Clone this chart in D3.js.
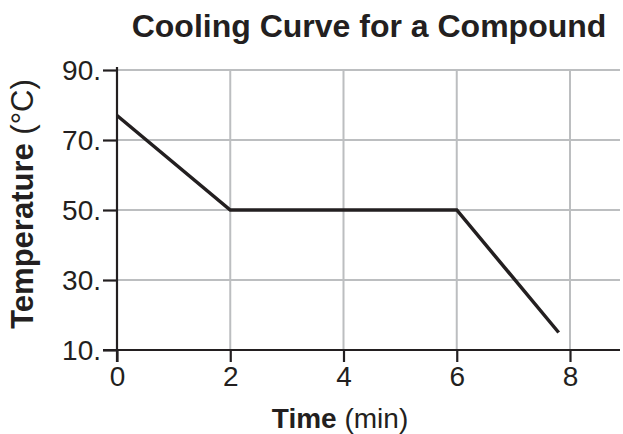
<!DOCTYPE html>
<html>
<head>
<meta charset="utf-8">
<script src="https://cdn.jsdelivr.net/npm/d3@7"></script>
<style>
  body { margin: 0; background: #fff; }
  text { font-family: "Liberation Sans", Arial, sans-serif; fill: #231f20; }
</style>
</head>
<body>
<svg></svg>
<script>
// data
let times = [0, 2, 6, 7.8];
let temps = [77, 50, 50, 15];
let xTicks = [0, 2, 4, 6, 8];
let yTicks = [10, 30, 50, 70, 90];
let yTickLabels = ["10.", "30.", "50.", "70.", "90."];

let width = 623;
let height = 434;

let svg = d3.select("svg")
            .attr("width", width)
            .attr("height", height);

let xScale = d3.scaleLinear()
               .domain([0, 8])
               .range([117, 570]);

let yScale = d3.scaleLinear()
               .domain([10, 90])
               .range([350, 70]);

let right = 620;

// grid
svg.append("g")
   .selectAll("line")
   .data(yTicks.slice(1))
   .enter()
   .append("line")
     .attr("x1", xScale(0))
     .attr("x2", right)
     .attr("y1", d => yScale(d))
     .attr("y2", d => yScale(d))
     .attr("stroke", "#bcbec0")
     .attr("stroke-width", 2);

svg.append("g")
   .selectAll("line")
   .data(xTicks.slice(1))
   .enter()
   .append("line")
     .attr("x1", d => xScale(d))
     .attr("x2", d => xScale(d))
     .attr("y1", yScale(90))
     .attr("y2", yScale(10))
     .attr("stroke", "#bcbec0")
     .attr("stroke-width", 2);

// x axis
let xAxis = svg.append("g")
   .attr("transform", `translate(0,${yScale(10)})`)
   .call(d3.axisBottom(xScale).tickValues(xTicks).tickSize(12).tickPadding(4).tickFormat(d3.format("d")));

xAxis.select(".domain")
     .attr("d", `M103,0H${right}`);

// y axis
let yAxis = svg.append("g")
   .attr("transform", `translate(${xScale(0)},0)`)
   .call(d3.axisLeft(yScale).tickValues(yTicks).tickSize(14).tickPadding(2)
           .tickFormat((d, i) => yTickLabels[i]));

yAxis.select(".domain")
     .attr("d", `M0,${yScale(90) - 3}V${yScale(10) + 12}`);

svg.selectAll(".domain, .tick line")
   .attr("stroke", "#231f20")
   .attr("stroke-width", 2.2);

svg.selectAll(".tick text")
   .attr("font-size", 28)
   .attr("font-family", "'Liberation Sans', Arial, sans-serif")
   .attr("fill", "#231f20");

yAxis.selectAll(".tick text").attr("dy", "0.34em");

// the curve
let line = d3.line()
             .x(d => xScale(d[0]))
             .y(d => yScale(d[1]));

svg.append("path")
   .datum(times.map((t, i) => [t, temps[i]]))
   .attr("d", line)
   .attr("fill", "none")
   .attr("stroke", "#231f20")
   .attr("stroke-width", 3.5);

// title
svg.append("text")
   .attr("x", 369)
   .attr("y", 37)
   .attr("text-anchor", "middle")
   .attr("font-size", 32)
   .attr("font-weight", "bold")
   .text("Cooling Curve for a Compound");

// x axis label
let xLabel = svg.append("text")
   .attr("x", 340)
   .attr("y", 428)
   .attr("text-anchor", "middle")
   .attr("font-size", 28);
xLabel.append("tspan").attr("font-weight", "bold").text("Time");
xLabel.append("tspan").text(" (min)");

// y axis label
let yLabel = svg.append("text")
   .attr("transform", "rotate(-90)")
   .attr("x", -204)
   .attr("y", 33)
   .attr("text-anchor", "middle")
   .attr("font-size", 31);
yLabel.append("tspan").attr("font-weight", "bold").text("Temperature");
yLabel.append("tspan").text(" (°C)");
</script>
</body>
</html>
